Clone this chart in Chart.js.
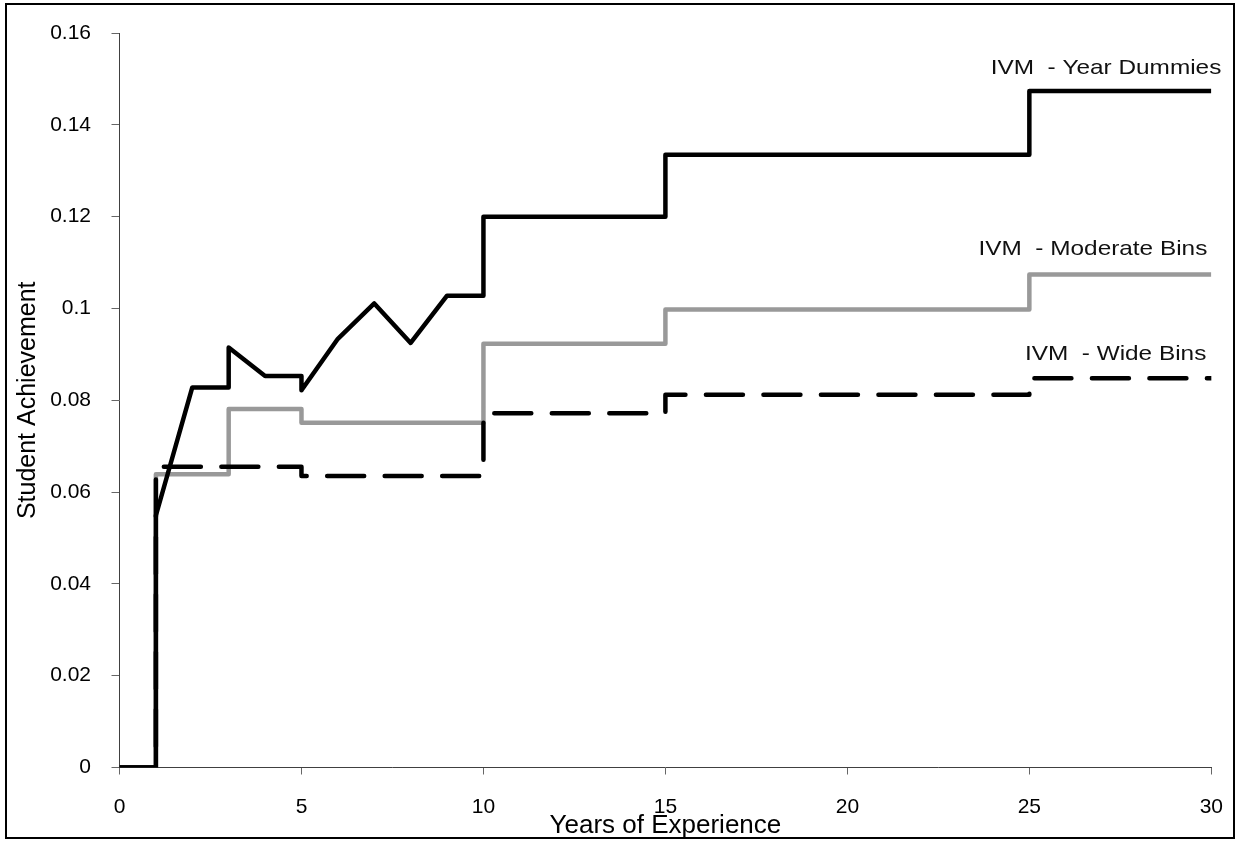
<!DOCTYPE html>
<html>
<head>
<meta charset="utf-8">
<script src="https://cdn.jsdelivr.net/npm/chart.js@4.4.1/dist/chart.umd.min.js"></script>
<style>
  body { margin: 0; background: #fff; }
  #wrap { width: 1243px; height: 842px; }
</style>
</head>
<body>
<div id="wrap"><canvas id="expChart" width="1243" height="842"></canvas></div>
<script>
// Values (x = years of experience, y = achievement)
let yearDummiesX = [0, 1, 1, 2, 3, 3, 4, 5, 5, 6, 7, 8, 9, 10, 10, 15, 15, 25, 25, 30];
let yearDummiesY = [0, 0, 0.0549, 0.0828, 0.0828, 0.0915, 0.0853, 0.0853, 0.0822, 0.0934,
                    0.1011, 0.0925, 0.1028, 0.1028, 0.1200, 0.1200, 0.1335, 0.1335, 0.1474, 0.1474];
let moderateBinsX = [0, 1, 1, 3, 3, 5, 5, 10, 10, 15, 15, 25, 25, 30];
let moderateBinsY = [0, 0, 0.0639, 0.0639, 0.0781, 0.0781, 0.0751, 0.0751, 0.0923, 0.0923,
                     0.0998, 0.0998, 0.1074, 0.1074];
let wideBinsX = [0, 1, 1, 5, 5, 10, 10, 15, 15, 25, 25, 30];
let wideBinsY = [0, 0, 0.0655, 0.0655, 0.0635, 0.0635, 0.0772, 0.0772, 0.0812, 0.0812, 0.0848, 0.0848];
let seriesNames = ["IVM  - Year Dummies", "IVM  - Moderate Bins", "IVM  - Wide Bins"];
let xTicks = [0, 5, 10, 15, 20, 25, 30];
let yTicks = [0, 0.02, 0.04, 0.06, 0.08, 0.1, 0.12, 0.14, 0.16];

function toPoints(xs, ys) {
  return xs.map((x, i) => ({ x: x, y: ys[i] }));
}

// label placement relative to the end of each line
const labelShift = [10, -4, -5];
const labelRaise = [17, 20, 18];

const seriesLabels = {
  id: "seriesLabels",
  afterDatasetsDraw(chart) {
    const c = chart.ctx;
    const xs = chart.scales.x;
    const ys = chart.scales.y;
    c.save();
    c.font = "21px 'Liberation Sans', Arial, sans-serif";
    c.fillStyle = "#111";
    c.textAlign = "right";
    c.textBaseline = "alphabetic";
    chart.data.datasets.forEach((ds, i) => {
      const last = ds.data[ds.data.length - 1];
      const px = xs.getPixelForValue(last.x) + labelShift[i];
      const py = ys.getPixelForValue(last.y) - labelRaise[i];
      c.save();
      c.translate(px, py);
      c.scale(1.16, 1);
      c.fillText(ds.label, 0, 0);
      c.restore();
    });
    // outer frame of the figure
    c.lineWidth = 2;
    c.strokeStyle = "#000";
    c.strokeRect(6, 4, 1228, 834);
    c.restore();
  }
};

const tickFont = { family: "'Liberation Sans', Arial, sans-serif", size: 21 };
const xTitleFont = { family: "'Liberation Sans', Arial, sans-serif", size: 26, lineHeight: 1.2 };
const yTitleFont = { family: "'Liberation Sans', Arial, sans-serif", size: 25, lineHeight: 1.2 };

const ctx = document.getElementById("expChart").getContext("2d");
const expChart = new Chart(ctx, {
  type: "scatter",
  data: {
    datasets: [
      {
        label: seriesNames[0],
        data: toPoints(yearDummiesX, yearDummiesY),
        borderColor: "#000",
        borderWidth: 4.5,
        borderJoinStyle: "round",
        order: 0
      },
      {
        label: seriesNames[1],
        data: toPoints(moderateBinsX, moderateBinsY),
        borderColor: "#999999",
        borderWidth: 4.5,
        borderJoinStyle: "round",
        order: 2
      },
      {
        label: seriesNames[2],
        data: toPoints(wideBinsX, wideBinsY),
        borderColor: "#000",
        borderWidth: 4.5,
        borderDash: [37, 20.5],
        borderCapStyle: "round",
        borderJoinStyle: "round",
        order: 1
      }
    ]
  },
  options: {
    responsive: false,
    animation: false,
    showLine: true,
    elements: {
      point: { radius: 0, hoverRadius: 0 },
      line: { tension: 0, fill: false }
    },
    layout: { padding: { top: 27, right: 31, bottom: 0, left: 0 } },
    plugins: {
      legend: { display: false },
      tooltip: { enabled: false }
    },
    scales: {
      x: {
        type: "linear",
        min: 0,
        max: 30,
        afterBuildTicks: s => { s.ticks = xTicks.map(v => ({ value: v })); },
        afterFit: s => { s.height = 74.5; },
        grid: { drawOnChartArea: false, tickLength: 7, color: "#666" },
        border: { color: "#404040", width: 1 },
        ticks: { font: tickFont, color: "#000", padding: 20, maxRotation: 0 },
        title: { display: true, text: "Years of Experience", font: xTitleFont, color: "#000",
                 padding: { top: 0, bottom: 1 } }
      },
      y: {
        type: "linear",
        min: 0,
        max: 0.16,
        afterBuildTicks: s => { s.ticks = yTicks.map(v => ({ value: v })); },
        afterFit: s => { s.width = 119.5; },
        grid: { drawOnChartArea: false, tickLength: 8, color: "#666" },
        border: { color: "#404040", width: 1 },
        ticks: {
          font: tickFont,
          color: "#000",
          padding: 20.5,
          callback: v => String(+v.toFixed(2))
        },
        title: { display: true, text: "Student Achievement", font: yTitleFont, color: "#000",
                 padding: { top: 13, bottom: 0 } }
      }
    }
  },
  plugins: [seriesLabels]
});
</script>
</body>
</html>
